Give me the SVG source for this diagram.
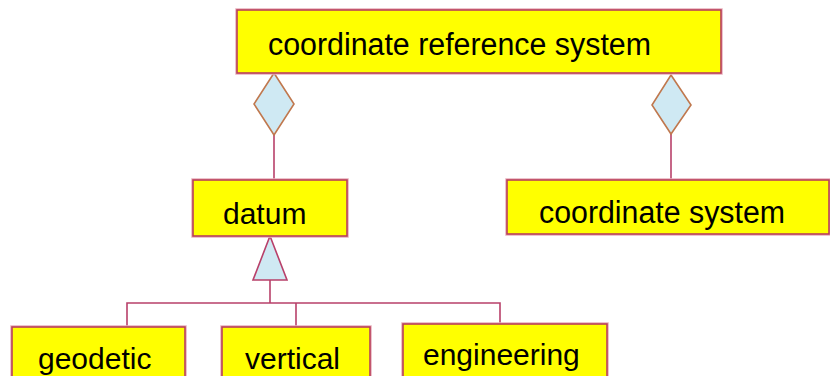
<svg xmlns="http://www.w3.org/2000/svg" width="830" height="376" viewBox="0 0 830 376">
<style>
.box{fill:#ffff00;stroke:#b8405a;stroke-width:1.6}
.halo{fill:none;stroke:#e8b0bc;stroke-width:3.5}
.lbl{font-family:"Liberation Sans",Arial,sans-serif;font-size:30px;fill:#000}
.ln{fill:none;stroke:#b8406a;stroke-width:1.6}
.dia{fill:#cfe9f3;stroke:#c0784e;stroke-width:1.6}
.tri{fill:#cfe9f3;stroke:#b8406a;stroke-width:1.6}
</style>
<rect width="830" height="376" fill="#ffffff"/>
<g id="connectors">
<line class="ln" x1="274" y1="135" x2="274" y2="180"/>
<line class="ln" x1="671" y1="134" x2="671" y2="180"/>
<line class="ln" x1="270" y1="280" x2="270" y2="303"/>
<polyline class="ln" points="127,327 127,303 500,303 500,324"/>
<line class="ln" x1="296" y1="303" x2="296" y2="327"/>
<polygon class="dia" points="274,73 294,104 274,135 254,104"/>
<polygon class="dia" points="671,75 691,105 671,134 652,105"/>
<polygon class="tri" points="270,236 287,280 253,280"/>
</g>
<g id="crs">
<rect class="halo" x="237" y="10" width="484" height="63"/>
<rect class="box" x="237" y="10" width="484" height="63"/>
<text class="lbl" x="268" y="55" textLength="383" lengthAdjust="spacingAndGlyphs" style="font-size:31px">coordinate reference system</text>
</g>
<g id="datum">
<rect class="halo" x="193" y="180" width="154" height="56"/>
<rect class="box" x="193" y="180" width="154" height="56"/>
<text class="lbl" x="223" y="224">datum</text>
</g>
<g id="cs">
<rect class="halo" x="507" y="180" width="322" height="54"/>
<rect class="box" x="507" y="180" width="322" height="54"/>
<text class="lbl" x="539" y="223" textLength="246" lengthAdjust="spacingAndGlyphs" style="font-size:31px">coordinate system</text>
</g>
<g id="geodetic">
<rect class="halo" x="12" y="327" width="173" height="60"/>
<rect class="box" x="12" y="327" width="173" height="60"/>
<text class="lbl" x="38" y="369">geodetic</text>
</g>
<g id="vertical">
<rect class="halo" x="222" y="327" width="148" height="60"/>
<rect class="box" x="222" y="327" width="148" height="60"/>
<text class="lbl" x="245" y="369">vertical</text>
</g>
<g id="engineering">
<rect class="halo" x="403" y="324" width="204" height="60"/>
<rect class="box" x="403" y="324" width="204" height="60"/>
<text class="lbl" x="423" y="365">engineering</text>
</g>
</svg>
